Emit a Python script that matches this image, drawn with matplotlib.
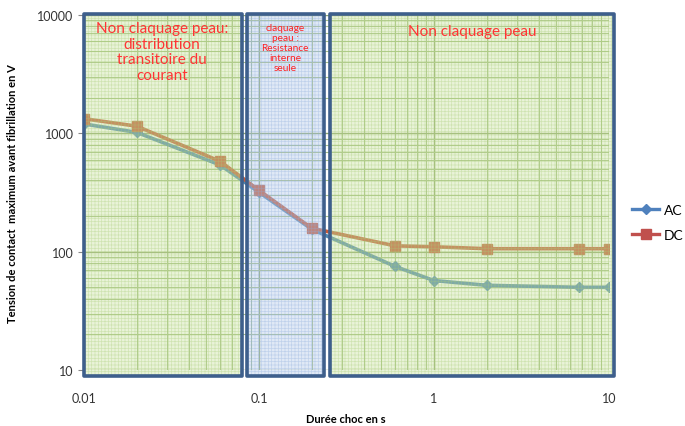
import matplotlib
matplotlib.use("Agg")
import matplotlib.pyplot as plt
import matplotlib.transforms as mtransforms
from matplotlib.patches import Rectangle
from matplotlib.lines import Line2D

# durations (s) and contact voltages (V)
t_ac = [0.01, 0.02, 0.06, 0.1, 0.2, 0.6, 1, 2, 6.7, 10]
v_ac = [1200, 1020, 540, 318, 155, 75, 57, 52, 50, 50]
t_dc = [0.01, 0.02, 0.06, 0.1, 0.2, 0.6, 1, 2, 6.7, 10]
v_dc = [1330, 1150, 580, 330, 158, 112, 110, 106, 106, 106]

# zones along the duration axis
zone_bounds = [(0.01, 0.0803), (0.0857, 0.2345), (0.256, 10.7)]
zone_faces = ["#c9e29e", "#b3c9ea", "#c9e29e"]
zone_hatch = ["#a8cc78", "#8eaedb", "#a8cc78"]
zone_texts = ["Non claquage peau:\ndistribution\ntransitoire du\ncourant",
              "claquage\npeau :\nResistance\ninterne\nseule",
              "Non claquage peau"]

plt.rcParams['font.family'] = ['Lato', 'DejaVu Sans']
plt.rcParams['hatch.linewidth'] = 0.5

fig = plt.figure(figsize=(6.85, 4.27), dpi=100)
ax = fig.add_axes([0.1226, 0.1311, 0.7664, 0.8314])
ax.set_xscale("log")
ax.set_yscale("log")
ax.set_xlim(0.01, 10)
ax.set_ylim(10, 10000)

ax.grid(which="major", color="#8fa86e", linewidth=1.0, zorder=0.5)
ax.grid(which="minor", color="#a6bf86", linewidth=0.8, zorder=0.5)
ax.set_axisbelow(True)

ax.plot(t_ac, v_ac, color="#4f86b0", lw=2.6, marker="D", ms=5.5, zorder=2, label="AC")
ax.plot(t_dc, v_dc, color="#c45a3a", lw=2.6, marker="s", ms=7.5, zorder=2, label="DC")

trans = mtransforms.blended_transform_factory(ax.transData, ax.transAxes)
y0, y1 = -0.017, 1.003
for (xa, xb), fc, hc in zip(zone_bounds, zone_faces, zone_hatch):
    ax.add_patch(Rectangle((xa, y0), xb - xa, y1 - y0, transform=trans,
                           facecolor=fc, edgecolor="none", alpha=0.4, zorder=3, clip_on=False))
    ax.add_patch(Rectangle((xa, y0), xb - xa, y1 - y0, transform=trans,
                           facecolor="none", edgecolor=hc, hatch="+++++", lw=0,
                           alpha=0.4, zorder=3, clip_on=False))
    ax.add_patch(Rectangle((xa, y0), xb - xa, y1 - y0, transform=trans,
                           facecolor="none", edgecolor="#3e5f8c", lw=2.6,
                           joinstyle="round", zorder=4, clip_on=False))

red = "#ff3434"
ax.text(0.028, 0.983, zone_texts[0], transform=trans, ha="center", va="top",
        color=red, fontsize=11, linespacing=1.15, zorder=5)
ax.text(0.141, 0.978, zone_texts[1], transform=trans, ha="center", va="top",
        color="#ff2020", fontsize=7.3, linespacing=1.15, zorder=5)
ax.text(1.65, 0.975, zone_texts[2], transform=trans, ha="center", va="top",
        color=red, fontsize=11, zorder=5)

ax.set_xticks([0.01, 0.1, 1, 10])
ax.set_xticklabels(["0.01", "0.1", "1", "10"])
ax.set_yticks([10, 100, 1000, 10000])
ax.set_yticklabels(["10", "100", "1000", "10000"])
ax.tick_params(axis="x", which="both", length=0, pad=16, labelsize=9, colors="#333333")
ax.tick_params(axis="y", which="major", length=4, color="#888888", labelsize=9, colors="#333333")
ax.tick_params(axis="y", which="minor", length=0)
for s in ax.spines.values():
    s.set_visible(False)

fig.text(346 / 685, 1 - 420 / 427, "Durée choc en s", ha="center", va="center",
         fontsize=8, fontweight="bold")
ax.set_ylabel("Tension de contact  maximum avant fibrillation en V", fontsize=8,
              fontweight="bold", labelpad=14)

handles = [Line2D([], [], color="#4f81bd", lw=2.4, marker="D", ms=5.5),
           Line2D([], [], color="#c0504d", lw=2.4, marker="s", ms=7)]
fig.legend(handles, ["AC", "DC"], loc="center left", bbox_to_anchor=(0.908, 0.477),
           frameon=False, fontsize=10, handlelength=2.0, handletextpad=0.3, labelspacing=0.9,
           borderpad=0.2)

fig.savefig("out.png", dpi=100)
